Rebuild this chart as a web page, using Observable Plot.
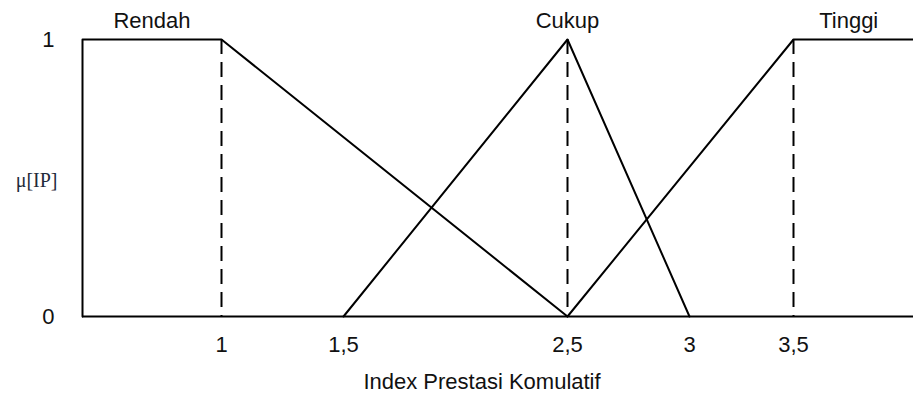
<!DOCTYPE html>
<html>
<head>
<meta charset="utf-8">
<script src="https://cdn.jsdelivr.net/npm/d3@7"></script>
<script src="https://cdn.jsdelivr.net/npm/@observablehq/plot@0.6"></script>
<style>
  html, body { margin: 0; padding: 0; background: #fff; }
  svg { display: block; }
</style>
</head>
<body>
<div id="chart"></div>
<script>
// Membership functions (x = IP value, y = membership degree)
const rendah = [[0, 0], [0, 1], [1, 1], [2.5, 0]];
const cukup  = [[1.5, 0], [2.5, 1], [3, 0]];
const tinggi = [[2.5, 0], [3.5, 1], [4, 1]];
const peaks = [1, 2.5, 3.5];
const setNames = ["Rendah", "Cukup", "Tinggi"];
const setLabelX = [0.5, 2.5, 3.73];
const xTicks = [1, 1.5, 2.5, 3, 3.5];
const yTicks = [0, 1];
const xLabel = "Index Prestasi Komulatif";
const yLabel = "μ[IP]";

// The original drawing is not to scale: piecewise x scale
const xDomain = [0, 1, 1.5, 2.5, 3, 3.5, 4];
const xRange  = [82, 221, 343, 567, 689, 793, 913];

const font = "Liberation Sans, Arial, sans-serif";
const labels = setNames.map((name, i) => ({name, x: setLabelX[i]}));

const plot = Plot.plot({
  width: 913,
  height: 398,
  marginLeft: 82,
  marginRight: 0,
  marginTop: 39,
  marginBottom: 82,
  style: {fontFamily: font, fontSize: "22px", color: "#111", background: "#fff"},
  x: {type: "linear", domain: xDomain, range: xRange},
  y: {domain: [0, 1], range: [316, 39]},
  marks: [
    Plot.ruleY([0], {x1: 0, x2: 4, stroke: "#000", strokeWidth: 2}),
    Plot.ruleX(peaks, {y1: 1, y2: 0, stroke: "#000", strokeWidth: 2, strokeDasharray: "15,8"}),
    Plot.line(rendah, {x: d => d[0], y: d => d[1], stroke: "#000", strokeWidth: 2}),
    Plot.line(cukup, {x: d => d[0], y: d => d[1], stroke: "#000", strokeWidth: 2}),
    Plot.line(tinggi, {x: d => d[0], y: d => d[1], stroke: "#000", strokeWidth: 2}),
    Plot.text(labels, {x: "x", y: 1, text: "name", dy: -19, fontSize: 22, fill: "#111"}),
    Plot.axisX(xTicks, {tickSize: 0, tickPadding: 20, fontSize: 22, label: null,
      tickFormat: d => String(d).replace(".", ",")}),
    Plot.axisY(yTicks, {tickSize: 0, tickPadding: 28, fontSize: 22, label: null,
      tickFormat: d => String(d)}),
    Plot.text([yLabel], {frameAnchor: "left", dx: -25, dy: 3, textAnchor: "end",
      fontFamily: "Liberation Serif, DejaVu Serif, serif", fontSize: 20, fill: "#1f2a3a"}),
    Plot.text([xLabel], {frameAnchor: "bottom", dx: -16, dy: 72, fontSize: 22, fill: "#111"})
  ]
});
document.getElementById("chart").appendChild(plot);
</script>
</body>
</html>
